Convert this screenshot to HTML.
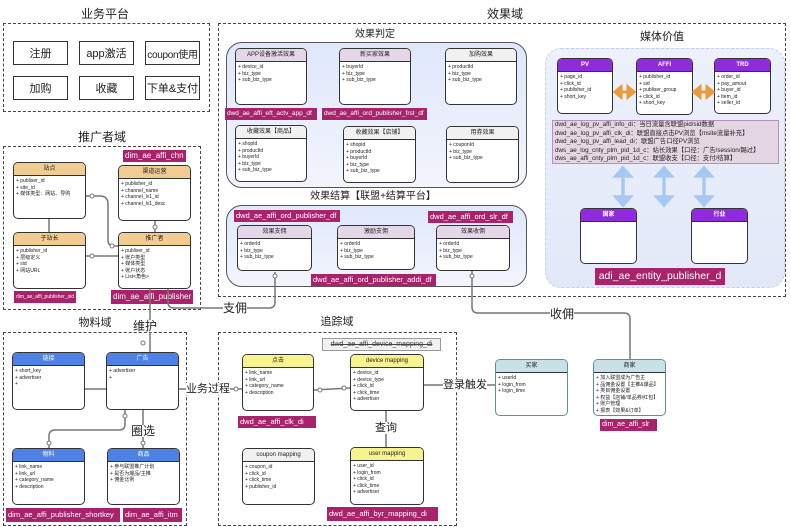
<!DOCTYPE html>
<html><head><meta charset="utf-8"><style>
*{margin:0;padding:0;box-sizing:border-box}
body{width:791px;height:527px;background:#fff;position:relative;overflow:hidden;font-family:"Liberation Sans","Noto Sans CJK SC",sans-serif;color:#222}
.a{position:absolute}
.dash{position:absolute;border:1.5px dashed #444}
.t{position:absolute;font-size:11px;transform:translateX(-50%);white-space:nowrap;line-height:12px}
.btn{position:absolute;border:1.5px solid #333;background:#fff;font-size:11px;display:flex;align-items:center;justify-content:center;width:55px;height:24px;white-space:nowrap;overflow:hidden}
.ent{position:absolute;border:1.5px solid #333;border-radius:5px;background:#fff;overflow:hidden}
.ent .h{height:13px;border-bottom:1.5px solid #333;font-size:6px;text-align:center;line-height:12px}
.ent .b{font-size:5px;line-height:6.5px;padding:2px 2px;white-space:nowrap}
.lb{position:absolute;background:#a8236b;color:#fff;font-size:7px;line-height:12px;height:12px;padding:0 2px;white-space:nowrap;overflow:hidden}
.or .h{background:#f1cd93}.pu .h{background:#e5d7ea}.gr .h{background:#f1f1f1}
.vi .h{background:#8f2bdc;color:#fff;font-weight:bold}.bl .h{background:#4f80e6;color:#fff}
.ye .h{background:#f7f38e}.te .h{background:#c7e1e6}
.te{border-color:#5b8f99}
.rnd{position:absolute;border:1.5px solid #555;border-radius:16px;background:linear-gradient(#dfe7fb,#f3f5fc)}
</style></head><body>

<!-- 业务平台 -->
<div class="t" style="left:105px;top:8px;font-size:12px">业务平台</div>
<div class="dash" style="left:3px;top:23px;width:207px;height:89px"></div>
<div class="btn" style="left:13px;top:41px">注册</div>
<div class="btn" style="left:79px;top:41px">app激活</div>
<div class="btn" style="left:145px;top:41px;font-size:10px;letter-spacing:-0.3px">coupon使用</div>
<div class="btn" style="left:13px;top:76px">加购</div>
<div class="btn" style="left:79px;top:76px">收藏</div>
<div class="btn" style="left:145px;top:76px">下单&amp;支付</div>

<!-- 推广者域 -->
<div class="t" style="left:102px;top:131px;font-size:12px">推广者域</div>
<div class="dash" style="left:3px;top:146px;width:198px;height:164px"></div>
<div class="lb" style="left:123px;top:150px;font-size:8px">dim_ae_affi_chn</div>
<div class="ent or" style="left:13px;top:162px;width:73px;height:57px"><div class="h">站点</div><div class="b">+ publiser_id<br>+ site_id<br>+ 媒体类型：网站、导购</div></div>
<div class="ent or" style="left:118px;top:165px;width:73px;height:56px"><div class="h">渠道运营</div><div class="b">+ publisher_id<br>+ channel_name<br>+ channel_lv1_id<br>+ channel_lv1_desc</div></div>
<div class="ent or" style="left:13px;top:232px;width:73px;height:57px"><div class="h">子站长</div><div class="b">+ publisher_id<br>+ 层级定义<br>+ sid<br>+ 网站URL</div></div>
<div class="ent or" style="left:118px;top:232px;width:73px;height:57px"><div class="h">推广者</div><div class="b">+ publiser_id<br>+ 账户类型<br>+ 媒体类型<br>+ 账户状态<br>+ List&lt;角色&gt;</div></div>
<div class="lb" style="left:14px;top:291px;font-size:5px">dim_ae_affi_publisher_sid</div>
<div class="lb" style="left:111px;top:290px;height:14px;line-height:14px;font-size:8px">dim_ae_affi_publisher</div>

<!-- 效果域 -->
<div class="t" style="left:505px;top:8px;font-size:12px">效果域</div>
<div class="dash" style="left:218px;top:23px;width:568px;height:274px"></div>
<div class="t" style="left:375px;top:29px;font-size:10px">效果判定</div>
<div class="rnd" style="left:226px;top:42px;width:301px;height:146px"></div>
<div class="ent pu" style="left:235px;top:48px;width:72px;height:57px"><div class="h">APP设备激活效果</div><div class="b">+ device_id<br>+ biz_type<br>+ sub_biz_type</div></div>
<div class="ent pu" style="left:339px;top:48px;width:72px;height:57px"><div class="h">新买家效果</div><div class="b">+ buyerId<br>+ biz_type<br>+ sub_biz_type</div></div>
<div class="ent gr" style="left:445px;top:48px;width:72px;height:57px"><div class="h">加购效果</div><div class="b">+ productId<br>+ biz_type<br>+ sub_biz_type</div></div>
<div class="lb" style="left:225px;top:108px;width:92px;font-size:6.5px">dwd_ae_affi_eft_actv_app_df</div>
<div class="lb" style="left:322px;top:108px;width:105px;font-size:6.5px">dwd_ae_affi_ord_publisher_frst_df</div>
<div class="ent gr" style="left:235px;top:125px;width:72px;height:57px"><div class="h">收藏效果【商品】</div><div class="b">+ shopId<br>+ productId<br>+ buyerId<br>+ biz_type<br>+ sub_biz_type</div></div>
<div class="ent gr" style="left:343px;top:126px;width:73px;height:57px"><div class="h">收藏效果【店铺】</div><div class="b">+ shopId<br>+ productId<br>+ buyerId<br>+ biz_type<br>+ sub_biz_type</div></div>
<div class="ent gr" style="left:446px;top:126px;width:73px;height:57px"><div class="h">用券效果</div><div class="b">+ couponId<br>+ biz_type<br>+ sub_biz_type</div></div>

<div class="t" style="left:373px;top:191px;font-size:10px">效果结算【联盟+结算平台】</div>
<div class="rnd" style="left:226px;top:205px;width:301px;height:82px"></div>
<div class="lb" style="left:234px;top:210px;width:106px;font-size:7.5px">dwd_ae_affi_ord_publisher_df</div>
<div class="lb" style="left:428px;top:211px;width:85px;font-size:7.5px">dwd_ae_affi_ord_slr_df</div>
<div class="ent pu" style="left:237px;top:225px;width:75px;height:46px"><div class="h">效果支佣</div><div class="b">+ orderId<br>+ biz_type<br>+ sub_biz_type</div></div>
<div class="ent pu" style="left:337px;top:225px;width:78px;height:45px"><div class="h">激励支佣</div><div class="b">+ orderId<br>+ biz_type<br>+ sub_biz_type</div></div>
<div class="ent pu" style="left:436px;top:225px;width:74px;height:46px"><div class="h">效果收佣</div><div class="b">+ orderId<br>+ biz_type<br>+ sub_biz_type</div></div>
<div class="lb" style="left:311px;top:274px;width:125px;font-size:7.5px">dwd_ae_affi_ord_publisher_addi_df</div>

<!-- 媒体价值 -->
<div class="t" style="left:662px;top:31px;font-size:11px">媒体价值</div>
<div class="a" style="left:545px;top:48px;width:240px;height:240px;border:1.5px dashed #c6d0ea;border-radius:16px;background:linear-gradient(#edf1fb,#e2e8f8)"></div>
<div class="ent vi" style="left:557px;top:58px;width:56px;height:56px"><div class="h">PV</div><div class="b">+ page_id<br>+ click_id<br>+ publisher_id<br>+ short_key</div></div>
<div class="ent vi" style="left:636px;top:58px;width:57px;height:57px"><div class="h">AFFI</div><div class="b">+ publisher_id<br>+ sid<br>+ publiser_group<br>+ click_id<br>+ short_key</div></div>
<div class="ent vi" style="left:714px;top:58px;width:57px;height:56px"><div class="h">TRD</div><div class="b">+ order_id<br>+ pay_amout<br>+ buyer_id<br>+ item_id<br>+ seller_id</div></div>
<div class="a" style="left:552px;top:120px;width:227px;height:44px;background:#e5d6e3;border:1px solid #b48fc0;font-size:6.3px;line-height:8.5px;padding:0 2px;white-space:nowrap">dwd_ae_log_pv_affi_info_di：当日流量含联盟pid/sid数据<br>dwd_ae_log_pv_affi_clk_di：联盟直接点击PV浏览【msite流量补充】<br>dwd_ae_log_pv_affi_lead_di：联盟广告口径PV浏览<br>dws_ae_log_cnty_plm_pid_1d_c：站长效果【口径：广告/session/踢过】<br>dws_ae_affi_cnty_plm_pid_1d_c：联盟收支【口径：支付/结算】</div>
<div class="ent vi" style="left:580px;top:208px;width:57px;height:56px"><div class="h">国家</div><div class="b"></div></div>
<div class="ent vi" style="left:691px;top:208px;width:57px;height:56px"><div class="h">行业</div><div class="b"></div></div>
<div class="lb" style="left:595px;top:268px;width:130px;height:17px;line-height:17px;font-size:10.5px;text-align:center">adi_ae_entity_publisher_d</div>

<!-- 物料域 -->
<div class="t" style="left:95px;top:317px;font-size:11px">物料域</div>
<div class="dash" style="left:3px;top:332px;width:184px;height:194px"></div>
<div class="ent bl" style="left:12px;top:352px;width:73px;height:58px"><div class="h">链接</div><div class="b">+ short_key<br>+ advertiser<br>+</div></div>
<div class="ent bl" style="left:106px;top:352px;width:73px;height:58px"><div class="h">广告</div><div class="b">+ advertiser<br>+</div></div>
<div class="ent bl" style="left:12px;top:448px;width:73px;height:57px"><div class="h">物料</div><div class="b">+ link_name<br>+ link_url<br>+ category_name<br>+ description</div></div>
<div class="ent bl" style="left:107px;top:448px;width:73px;height:57px"><div class="h">商品</div><div class="b">+ 参与联盟推广计划<br>+ 是否为爆品/主推<br>+ 佣金比例</div></div>
<div class="lb" style="left:6px;top:508px;width:114px;height:14px;line-height:14px;font-size:7.5px">dim_ae_affi_publisher_shortkey</div>
<div class="lb" style="left:123px;top:508px;width:59px;height:14px;line-height:14px;font-size:7.5px">dim_ae_affi_itm</div>

<!-- 追踪域 -->
<div class="t" style="left:337px;top:316px;font-size:11px">追踪域</div>
<div class="dash" style="left:218px;top:332px;width:239px;height:194px"></div>
<div class="a" style="left:322px;top:338px;width:119px;height:13px;background:#f1f1f1;border:1px solid #999;font-size:7px;line-height:11px;text-align:center;color:#444;text-decoration:line-through">dwd_ae_affi_device_mapping_di</div>
<div class="ent ye" style="left:242px;top:354px;width:72px;height:57px"><div class="h">点击</div><div class="b">+ link_name<br>+ link_url<br>+ category_name<br>+ description</div></div>
<div class="ent ye" style="left:350px;top:354px;width:74px;height:57px"><div class="h">device mapping</div><div class="b">+ device_id<br>+ device_type<br>+ click_id<br>+ click_time<br>+ advertiser</div></div>
<div class="lb" style="left:238px;top:416px;width:78px;font-size:7.5px">dwd_ae_affi_clk_di</div>
<div class="ent gr" style="left:242px;top:448px;width:73px;height:57px"><div class="h">coupon mapping</div><div class="b">+ coupon_id<br>+ click_id<br>+ click_time<br>+ publisher_id</div></div>
<div class="ent ye" style="left:350px;top:447px;width:74px;height:58px"><div class="h">user mapping</div><div class="b">+ user_id<br>+ login_from<br>+ click_id<br>+ click_time<br>+ advertiser</div></div>
<div class="lb" style="left:327px;top:507px;width:111px;height:14px;line-height:14px;font-size:7.5px">dwd_ae_affi_byr_mapping_di</div>

<!-- 买家/商家 -->
<div class="ent te" style="left:495px;top:359px;width:73px;height:57px"><div class="h">买家</div><div class="b">+ userId<br>+ login_from<br>+ login_time</div></div>
<div class="ent te" style="left:593px;top:359px;width:73px;height:57px"><div class="h">商家</div><div class="b">+ 加入联盟成为广告主<br>+ 品佣金设置【主推&amp;爆品】<br>+ 类目佣金设置<br>+ 权益【店铺/单品券/红包】<br>+ 账户管理<br>+ 报表【效果&amp;订单】</div></div>
<div class="lb" style="left:600px;top:419px;width:57px;font-size:7px">dim_ae_affi_slr</div>

<!-- connectors -->
<svg class="a" style="left:0;top:0" width="791" height="527">
<g fill="none" stroke="#777" stroke-width="1.5">
<path d="M49 219V232"/>
<path d="M86 196H100Q108 196 108 204V240Q108 246 114 246H118"/>
<path d="M86 256H118"/>
<path d="M155 221V232"/>
<path d="M150 289V352"/>
<path d="M168 289V302Q168 308 174 308H269Q275 308 275 302V272"/>
<path d="M472 271V307Q472 313 478 313H624Q630 313 630 319V359"/>
<path d="M179 389H242"/>
<path d="M85 389H106"/>
<path d="M125 410V424Q125 430 119 430H55Q49 430 49 436V448"/>
<path d="M143 410V448"/>
<path d="M314 390L350 388"/>
<path d="M386 411V447"/>
<path d="M424 385H495"/>
</g>
<g fill="#fff" stroke="#777" stroke-width="1">
<circle cx="92" cy="196" r="2"/><circle cx="112" cy="246" r="2"/><circle cx="92" cy="256" r="2"/>
<circle cx="155" cy="227" r="2"/><circle cx="275" cy="276" r="2"/><circle cx="472" cy="276" r="2"/>
<circle cx="143" cy="343" r="2"/><circle cx="236" cy="389" r="2"/><circle cx="320" cy="390" r="2"/>
<circle cx="344" cy="388" r="2"/><circle cx="125" cy="416" r="2"/><circle cx="49" cy="443" r="2"/><circle cx="143" cy="443" r="2"/>
</g>
<g stroke="#e99a3a" stroke-width="3" fill="#e99a3a">
<path d="M619 92H630"/><path d="M615 92l6-5v10z"/><path d="M634 92l-6-5v10z"/>
<path d="M698 92H709"/><path d="M694 92l6-5v10z"/><path d="M713 92l-6-5v10z"/>
</g>
<g stroke="#a8c8f4" stroke-width="3.5" fill="#a8c8f4">
<path d="M623 175V198"/><path d="M623 168l-7 8h14z"/><path d="M623 205l-7-8h14z"/>
<path d="M664 175V198"/><path d="M664 168l-7 8h14z"/><path d="M664 205l-7-8h14z"/>
<path d="M704 175V198"/><path d="M704 168l-7 8h14z"/><path d="M704 205l-7-8h14z"/>
</g>
</svg>
<div class="t" style="left:235px;top:302px;font-size:12px;background:#fff">支佣</div>
<div class="t" style="left:562px;top:308px;font-size:12px;background:#fff">收佣</div>
<div class="t" style="left:145px;top:320px;font-size:12px;background:#fff">维护</div>
<div class="t" style="left:208px;top:383px;font-size:11px;background:#fff">业务过程</div>
<div class="t" style="left:143px;top:425px;font-size:12px;background:#fff">圈选</div>
<div class="t" style="left:386px;top:422px;font-size:11px;background:#fff">查询</div>
<div class="t" style="left:465px;top:379px;font-size:11px;background:#fff">登录触发</div>
</body></html>
